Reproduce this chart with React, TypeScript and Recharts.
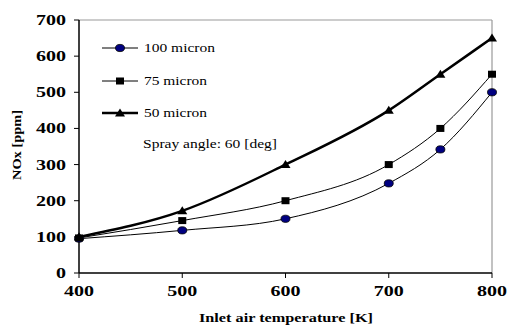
import React from "react";
import {
  LineChart,
  Line,
  XAxis,
  YAxis,
  ReferenceLine,
} from "recharts";

const temperatures = [400, 500, 600, 700, 750, 800];
const micron100 = [95, 118, 150, 248, 342, 500];
const micron75 = [97, 145, 200, 300, 400, 550];
const micron50 = [100, 172, 300, 450, 550, 650];
const xTicks = [400, 500, 600, 700, 800];
const yTicks = [0, 100, 200, 300, 400, 500, 600, 700];
const seriesNames = ["100 micron", "75 micron", "50 micron"];

const data = temperatures.map((t, i) => ({
  t,
  m100: micron100[i],
  m75: micron75[i],
  m50: micron50[i],
}));

const FONT = "'Liberation Serif', 'Times New Roman', serif";

const Circle = (props: any) => {
  const { cx, cy } = props;
  if (cx == null || cy == null) return null;
  return <ellipse cx={cx} cy={cy} rx={4.5} ry={3.6} fill="#000080" stroke="#000" strokeWidth={0.8} />;
};

const Square = (props: any) => {
  const { cx, cy } = props;
  if (cx == null || cy == null) return null;
  return <rect x={cx - 4} y={cy - 3.5} width={8} height={7} fill="#000" />;
};

const Triangle = (props: any) => {
  const { cx, cy } = props;
  if (cx == null || cy == null) return null;
  return <polygon points={`${cx - 5},${cy + 3.5} ${cx + 5},${cy + 3.5} ${cx},${cy - 4.5}`} fill="#000" />;
};

const XTick = (props: any) => {
  const { x, y, payload } = props;
  return (
    <text x={x} y={y + 16} textAnchor="middle" fontFamily={FONT} fontWeight="bold" fontSize={14}
      fill="#000" textLength={30} lengthAdjust="spacingAndGlyphs">
      {payload.value}
    </text>
  );
};

const YTick = (props: any) => {
  const { x, y, payload } = props;
  const s = String(payload.value);
  return (
    <text x={x - 6} y={y + 5} textAnchor="end" fontFamily={FONT} fontWeight="bold" fontSize={14}
      fill="#000" textLength={s.length * 10} lengthAdjust="spacingAndGlyphs">
      {s}
    </text>
  );
};

// legend and note, drawn over the plot in the top-left corner
const LegendBox = () => {
  const rows = [
    { name: seriesNames[0], y: 48, mark: <Circle cx={120} cy={48} />, w: 1, len: 71 },
    { name: seriesNames[1], y: 81, mark: <Square cx={120} cy={81} />, w: 1, len: 63 },
    { name: seriesNames[2], y: 113, mark: <Triangle cx={120} cy={113} />, w: 2.5, len: 63 },
  ];
  return (
    <svg width={300} height={160} style={{ position: "absolute", left: 0, top: 0, pointerEvents: "none" }}>
      {rows.map((r) => (
        <g key={r.name}>
          <line x1={102} x2={138} y1={r.y} y2={r.y} stroke="#000" strokeWidth={r.w} />
          {r.mark}
          <text x={144} y={r.y + 4} fontFamily={FONT} fontSize={13} fill="#000"
            textLength={r.len} lengthAdjust="spacingAndGlyphs">{r.name}</text>
        </g>
      ))}
      <text x={143} y={148} fontFamily={FONT} fontSize={13} fill="#000"
        textLength={134} lengthAdjust="spacingAndGlyphs">Spray angle: 60 [deg]</text>
    </svg>
  );
};

export default function App() {
  return (
    <div style={{ position: "absolute", left: 0, top: 0, width: 508, height: 325, background: "#fff" }}>
      <LineChart width={508} height={325} data={data} margin={{ top: 20, right: 16, left: 0, bottom: 22 }}>
        <XAxis
          dataKey="t"
          type="number"
          domain={[400, 800]}
          ticks={xTicks}
          tick={<XTick />}
          tickSize={5}
          height={30}
          stroke="#000"
          axisLine={{ stroke: "#000", strokeWidth: 1.5 }}
          tickLine={{ stroke: "#000" }}
        />
        <YAxis
          type="number"
          domain={[0, 700]}
          ticks={yTicks}
          tick={<YTick />}
          tickSize={5}
          width={79}
          stroke="#000"
          axisLine={{ stroke: "#000", strokeWidth: 1.5 }}
          tickLine={{ stroke: "#000" }}
        />
        <ReferenceLine y={700} stroke="#999" strokeWidth={1.2} />
        <ReferenceLine x={800} stroke="#999" strokeWidth={1.2} />
        <Line type="monotone" dataKey="m100" name={seriesNames[0]} stroke="#000" strokeWidth={1}
          dot={<Circle />} activeDot={false} isAnimationActive={false} />
        <Line type="monotone" dataKey="m75" name={seriesNames[1]} stroke="#000" strokeWidth={1}
          dot={<Square />} activeDot={false} isAnimationActive={false} />
        <Line type="monotone" dataKey="m50" name={seriesNames[2]} stroke="#000" strokeWidth={2.5}
          dot={<Triangle />} activeDot={false} isAnimationActive={false} />
        <text x={17} y={145} transform="rotate(-90 17 145)" textAnchor="middle" dominantBaseline="central"
          fontFamily={FONT} fontWeight="bold" fontSize={12} fill="#000"
          textLength={70} lengthAdjust="spacingAndGlyphs">NOx [ppm]</text>
        <text x={286} y={322} textAnchor="middle" fontFamily={FONT} fontWeight="bold" fontSize={13}
          fill="#000" textLength={174} lengthAdjust="spacingAndGlyphs">Inlet air temperature [K]</text>
      </LineChart>
      <LegendBox />
    </div>
  );
}
